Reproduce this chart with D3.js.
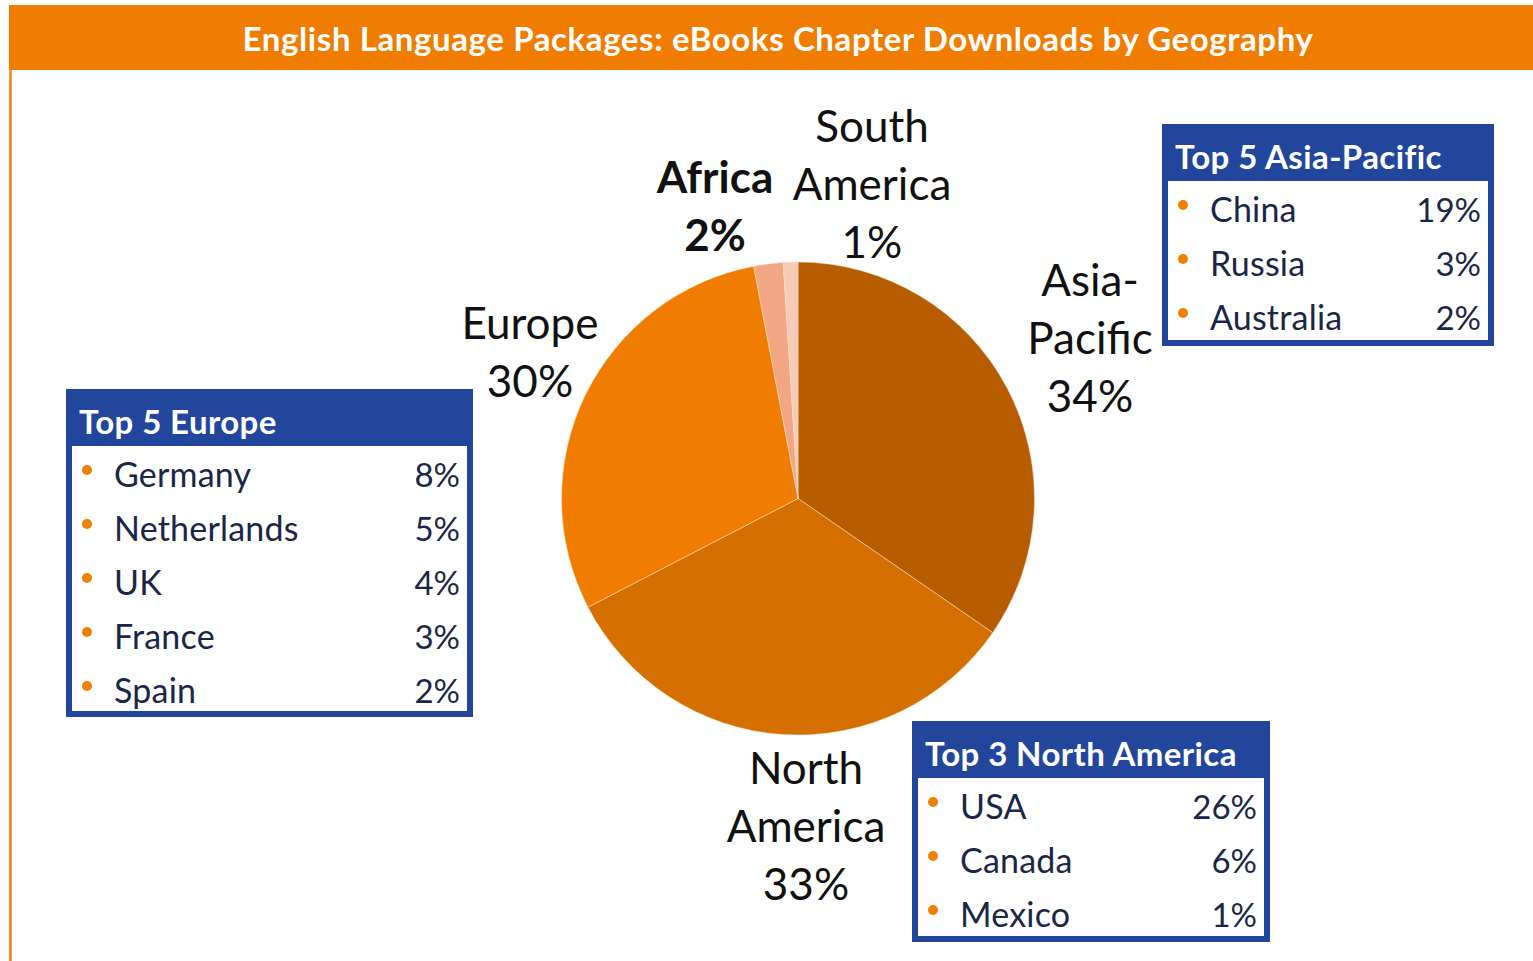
<!DOCTYPE html>
<html>
<head>
<meta charset="utf-8">
<script src="https://cdn.jsdelivr.net/npm/d3@7"></script>
<style>
  body { margin: 0; background: #fff; }
  svg { display: block; font-family: Lato, 'Open Sans', sans-serif; }
</style>
</head>
<body>
<svg id="viz"></svg>
<script>
// chart values
var regions = ['Asia-Pacific', 'North America', 'Europe', 'Africa', 'South America'];
var shares = [34.6, 32.8, 29.6, 2.0, 1.0];
var shareLabels = ['34%', '33%', '30%', '2%', '1%'];
var regionLines = [['Asia-', 'Pacific'], ['North', 'America'], ['Europe'], ['Africa'], ['South', 'America']];

var europeNames = ['Germany', 'Netherlands', 'UK', 'France', 'Spain'];
var europePct = ['8%', '5%', '4%', '3%', '2%'];
var asiaNames = ['China', 'Russia', 'Australia'];
var asiaPct = ['19%', '3%', '2%'];
var naNames = ['USA', 'Canada', 'Mexico'];
var naPct = ['26%', '6%', '1%'];

var title = 'English Language Packages: eBooks Chapter Downloads by Geography';

// layout
var width = 1533, height = 961;
var cx = 798, cy = 498.5, radius = 236.5;
var colors = ['#B85C00', '#D46F00', '#F07D00', '#F3A683', '#F8CBB9'];
var blue = '#21469B', ink = '#1B2647';

var svg = d3.select('#viz')
    .attr('width', width)
    .attr('height', height);

// header band + left rule
svg.append('rect')
    .attr('x', 9).attr('y', 5)
    .attr('width', width - 9).attr('height', 65)
    .attr('fill', '#F07D00');
svg.append('line')
    .attr('x1', 10.5).attr('x2', 10.5)
    .attr('y1', 70).attr('y2', height)
    .attr('stroke', '#F5820A').attr('stroke-width', 2.5);
svg.append('text')
    .attr('x', 778).attr('y', 39)
    .attr('dy', '0.35em')
    .attr('text-anchor', 'middle')
    .attr('fill', '#fff')
    .attr('font-weight', 700)
    .attr('font-size', 33)
    .attr('letter-spacing', 0.6)
    .text(title);

/************ pie ************/
var pie = d3.pie().sort(null).value(function(d){ return d; });
var arc = d3.arc().innerRadius(0).outerRadius(radius);

var g = svg.append('g')
    .attr('transform', 'translate(' + cx + ',' + cy + ')');

g.selectAll('path')
    .data(pie(shares))
    .enter()
    .append('path')
    .attr('d', arc)
    .attr('fill', function(d, i){ return colors[i]; })
    .attr('stroke', '#FBE3CC')
    .attr('stroke-width', 0.5);

// slice labels (placed by hand, like the original)
var labelPos = [
    {x: 1090, y: 281},
    {x: 806, y: 769},
    {x: 530, y: 324},
    {x: 715, y: 178, bold: true},
    {x: 872, y: 127}
];
var lineH = 58;

regions.forEach(function(r, i){
    var lines = regionLines[i].concat([shareLabels[i]]);
    var p = labelPos[i];
    svg.append('g').selectAll('text')
        .data(lines)
        .enter()
        .append('text')
        .attr('x', p.x)
        .attr('y', function(d, k){ return p.y + k * lineH; })
        .attr('dy', '0.35em')
        .attr('text-anchor', 'middle')
        .attr('font-size', 44)
        .attr('font-weight', p.bold ? 700 : 400)
        .attr('fill', '#111')
        .text(function(d){ return d; });
});

/************ top-N boxes ************/
function drawBox(x, y, w, h, heading, names, pcts){
    var headH = 57, border = 6, step = 54;
    var box = svg.append('g').attr('transform', 'translate(' + x + ',' + y + ')');
    box.append('rect')
        .attr('width', w).attr('height', h)
        .attr('fill', blue);
    box.append('rect')
        .attr('x', border).attr('y', headH)
        .attr('width', w - 2 * border).attr('height', h - headH - border)
        .attr('fill', '#fff');
    box.append('text')
        .attr('x', 13).attr('y', 33)
        .attr('dy', '0.35em')
        .attr('fill', '#fff')
        .attr('font-weight', 700)
        .attr('font-size', 33)
        .attr('letter-spacing', 0.4)
        .text(heading);

    var rows = box.selectAll('g.row')
        .data(names)
        .enter()
        .append('g')
        .attr('class', 'row')
        .attr('transform', function(d, i){ return 'translate(0,' + (headH + 29 + i * step) + ')'; });
    rows.append('circle')
        .attr('cx', 21).attr('cy', -5).attr('r', 5)
        .attr('fill', '#F08000');
    rows.append('text')
        .attr('x', 48)
        .attr('dy', '0.35em')
        .attr('font-size', 34)
        .attr('letter-spacing', 0.2)
        .attr('fill', ink)
        .text(function(d){ return d; });
    rows.append('text')
        .attr('x', w - 13)
        .attr('dy', '0.35em')
        .attr('text-anchor', 'end')
        .attr('font-size', 33)
        .attr('fill', ink)
        .text(function(d, i){ return pcts[i]; });
}

drawBox(1162, 124, 332, 222, 'Top 5 Asia-Pacific', asiaNames, asiaPct);
drawBox(66, 389, 407, 328, 'Top 5 Europe', europeNames, europePct);
drawBox(912, 721, 358, 221, 'Top 3 North America', naNames, naPct);
</script>
</body>
</html>
